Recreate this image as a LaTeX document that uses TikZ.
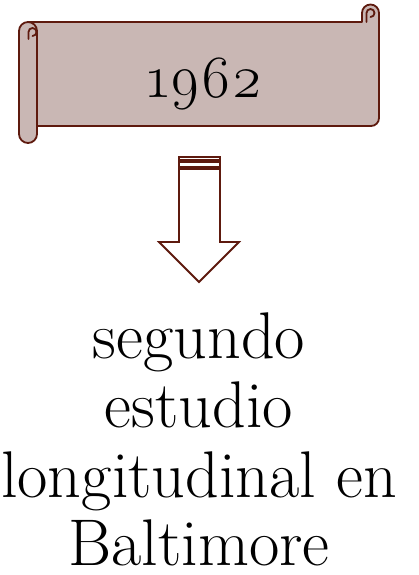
\documentclass[tikz,border=0pt]{standalone}
\usepackage{fontspec}
\newfontfamily\osfont{Latin Modern Roman}[Numbers=OldStyle]
\definecolor{scrollfill}{RGB}{201,183,180}
\definecolor{scrolldraw}{RGB}{94,26,14}
\tikzset{
  scrollpart/.style={fill=scrollfill,draw=scrolldraw,line width=1.8pt,line join=round},
  curlline/.style={draw=scrolldraw,line width=1.8pt,line cap=round},
  arrowpart/.style={fill=white,draw=scrolldraw,line width=1.8pt,line join=miter},
  bigtext/.style={anchor=base,inner sep=0pt,font=\fontsize{66}{70}\selectfont},
  yeartext/.style={anchor=base,inner sep=0pt,font=\osfont\fontsize{60}{64}\selectfont}
}
\begin{document}
\begin{tikzpicture}[x=1pt,y=-1pt]
\useasboundingbox (0,0) rectangle (419,575);
% scroll body
\path[scrollpart] (28,22) -- (362,22) -- (362,13)
  arc[start angle=180,end angle=360,radius=8.5] -- (379,118)
  arc[start angle=0,end angle=90,radius=8] -- (28,126) -- cycle;
% right curl
\path[curlline] (366.5,22) -- (366.5,13) arc[start angle=180,end angle=450,radius=4];
% left roll
\path[scrollpart] (37,31) -- (37,134) arc[start angle=0,end angle=180,radius=9]
  -- (19,31) arc[start angle=180,end angle=360,radius=9] -- cycle;
\path[curlline] (28.5,39) -- (28.5,32) arc[start angle=180,end angle=450,radius=4];
% year
\node[yeartext] (year) at (205,98) {1962};
% striped arrow
\path[arrowpart] (179,157) rectangle (220,160);
\path[arrowpart] (179,162) rectangle (220,167);
\path[arrowpart] (179,169) -- (220,169) -- (220,242) -- (239,242) -- (199,282)
  -- (159,242) -- (179,242) -- cycle;
% text
\node[bigtext] (l1) at (199,358) {segundo};
\node[bigtext] (l2) at (199,427) {estudio};
\node[bigtext] (l3) at (199,497) {longitudinal en};
\node[bigtext] (l4) at (199,565) {Baltimore};
\end{tikzpicture}
\end{document}
